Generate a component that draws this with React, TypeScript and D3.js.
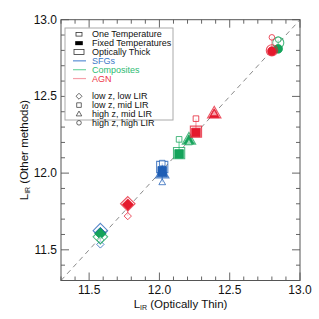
import * as d3 from 'd3'

const W = 319
const H = 319
const PLOT = { left: 61, top: 19.7, right: 300, bottom: 280.5 }
const FONT = 'Liberation Sans, Arial, Helvetica, sans-serif'

const X_DOMAIN: [number, number] = [11.3, 13.0]
const Y_DOMAIN: [number, number] = [11.3, 13.0]
const MAJOR_TICKS = [11.5, 12.0, 12.5, 13.0]
const TICK_LABELS = ['11.5', '12.0', '12.5', '13.0']

// SFGs: low z low LIR, low z mid LIR, high z mid LIR
const sfgShape = ['diamond', 'square', 'triangle']
const sfgThin = [11.58, 12.02, 12.02]
const sfgOneT = [11.535, 12.065, 11.94]
const sfgFixed = [11.61, 12.015, 12.0]
const sfgThick = [11.625, 12.04, 12.0]

// Composites: low z low LIR, low z mid LIR, high z mid LIR, high z high LIR
const compShape = ['diamond', 'square', 'triangle', 'circle']
const compThin = [11.58, 12.14, 12.21, 12.845]
const compOneT = [11.565, 12.22, 12.2, 12.87]
const compFixed = [11.605, 12.125, 12.215, 12.81]
const compThick = [11.585, 12.13, 12.22, 12.85]

// AGN
const agnShape = ['diamond', 'square', 'triangle', 'circle']
const agnThin = [11.775, 12.26, 12.39, 12.8]
const agnOneT = [11.72, 12.355, 12.39, 12.885]
const agnFixed = [11.795, 12.265, 12.385, 12.795]
const agnThick = [11.8, 12.27, 12.39, 12.8]

const CLASS_NAMES = ['SFGs', 'Composites', 'AGN']
const CLASS_COLORS = ['#1f5eb5', '#14a35a', '#e5192d']
const CLASS_LINE = ['#5b8fd4', '#72d6a2', '#f5a0aa']
const CLASS_TEXT = ['#3a78c8', '#2dbb72', '#ee3548']

const METHOD_NAMES = ['One Temperature', 'Fixed Temperatures', 'Optically Thick']
const SHAPE_NAMES = ['low z, low LIR', 'low z, mid LIR', 'high z, mid LIR', 'high z, high LIR']
const SHAPE_KEYS = ['diamond', 'square', 'triangle', 'circle']

function shapePath(shape: string, cx: number, cy: number, r: number) {
  if (shape === 'square') {
    return `M${cx - r},${cy - r}h${2 * r}v${2 * r}h${-2 * r}Z`
  }
  if (shape === 'diamond') {
    const d = r * 1.3
    return `M${cx},${cy - d}L${cx + d},${cy}L${cx},${cy + d}L${cx - d},${cy}Z`
  }
  if (shape === 'triangle') {
    const h = r * 1.25
    return `M${cx},${cy - h}L${cx + r * 1.2},${cy + r * 0.85}L${cx - r * 1.2},${cy + r * 0.85}Z`
  }
  return `M${cx - r},${cy}a${r},${r} 0 1,0 ${2 * r},0a${r},${r} 0 1,0 ${-2 * r},0`
}

export default function App() {
  const x = d3.scaleLinear().domain(X_DOMAIN).range([PLOT.left, PLOT.right])
  const y = d3.scaleLinear().domain(Y_DOMAIN).range([PLOT.bottom, PLOT.top])
  const minor = d3.range(11.3, 13.001, 0.1)

  const classes = [
    { shape: sfgShape, thin: sfgThin, one: sfgOneT, fixed: sfgFixed, thick: sfgThick },
    { shape: compShape, thin: compThin, one: compOneT, fixed: compFixed, thick: compThick },
    { shape: agnShape, thin: agnThin, one: agnOneT, fixed: agnFixed, thick: agnThick },
  ]

  const isMajor = (v: number) => MAJOR_TICKS.some((m) => Math.abs(m - v) < 1e-6)

  const legendY = (i: number) => 34.3 + i * 8.85
  const LX = 79
  const TX = 92

  return (
    <svg
      width={W}
      height={H}
      style={{ position: 'fixed', left: 0, top: 0, background: '#fff' }}
      fontFamily={FONT}
    >
      {/* diagonal 1:1 line */}
      <line
        x1={x(11.3)}
        y1={y(11.3)}
        x2={x(13.0)}
        y2={y(13.0)}
        stroke="#8a8a8a"
        strokeWidth={1}
        strokeDasharray="5 4"
      />

      {/* ticks on all four sides */}
      {minor.map((v, i) => {
        const len = isMajor(v) ? 8 : 4
        return (
          <g key={'t' + i} stroke="#666" strokeWidth={1}>
            <line x1={x(v)} x2={x(v)} y1={PLOT.bottom} y2={PLOT.bottom - len} />
            <line x1={x(v)} x2={x(v)} y1={PLOT.top} y2={PLOT.top + len} />
            <line y1={y(v)} y2={y(v)} x1={PLOT.left} x2={PLOT.left + len} />
            <line y1={y(v)} y2={y(v)} x1={PLOT.right} x2={PLOT.right - len} />
          </g>
        )
      })}
      <rect
        x={PLOT.left}
        y={PLOT.top}
        width={PLOT.right - PLOT.left}
        height={PLOT.bottom - PLOT.top}
        fill="none"
        stroke="#555"
        strokeWidth={1}
      />

      {MAJOR_TICKS.map((v, i) => (
        <text key={'xl' + i} x={x(v)} y={294} textAnchor="middle" fontSize={12} fill="#111">
          {TICK_LABELS[i]}
        </text>
      ))}
      {MAJOR_TICKS.map((v, i) => (
        <text
          key={'yl' + i}
          x={57}
          y={y(v)}
          textAnchor="end"
          dominantBaseline="central"
          fontSize={12}
          fill="#111"
        >
          {TICK_LABELS[i]}
        </text>
      ))}

      <text x={(PLOT.left + PLOT.right) / 2} y={308} textAnchor="middle" fontSize={11.5} fill="#111">
        <tspan>L</tspan>
        <tspan fontSize={7} dy={2}>IR</tspan>
        <tspan dy={-2}> (Optically Thin)</tspan>
      </text>
      <text
        transform={`translate(28,${(PLOT.top + PLOT.bottom) / 2}) rotate(-90)`}
        textAnchor="middle"
        fontSize={11.5}
        fill="#111"
      >
        <tspan>L</tspan>
        <tspan fontSize={7} dy={2}>IR</tspan>
        <tspan dy={-2}> (Other methods)</tspan>
      </text>

      {/* data */}
      {classes.map((c, ci) =>
        c.shape.map((s, i) => {
          const ys = [c.one[i], c.fixed[i], c.thick[i]]
          const px = x(c.thin[i])
          const col = CLASS_COLORS[ci]
          return (
            <g key={`d${ci}-${i}`}>
              <line
                x1={px}
                x2={px}
                y1={y(d3.min(ys) as number)}
                y2={y(d3.max(ys) as number)}
                stroke={CLASS_LINE[ci]}
                strokeWidth={1.2}
              />
              <path d={shapePath(s, px, y(c.fixed[i]), 4.3)} fill={col} stroke={col} strokeWidth={0.8} />
              <path
                d={shapePath(s, px, y(c.thick[i]), 5.6)}
                fill="none"
                stroke={col}
                strokeOpacity={0.75}
                strokeWidth={1.1}
              />
              <path
                d={shapePath(s, px, y(c.one[i]), 2.8)}
                fill="#fff"
                fillOpacity={0.6}
                stroke={col}
                strokeOpacity={0.85}
                strokeWidth={0.9}
              />
            </g>
          )
        })
      )}

      {/* legend */}
      <rect x={65} y={28} width={108} height={92} fill="#fff" stroke="#aaa" strokeWidth={1} />
      <rect x={LX - 3} y={legendY(0) - 1.8} width={6} height={3.6} fill="none" stroke="#333" strokeWidth={0.8} />
      <rect x={LX - 3.8} y={legendY(1) - 2} width={7.6} height={4} fill="#000" />
      <rect x={LX - 5} y={legendY(2) - 2.5} width={10} height={5} fill="none" stroke="#333" strokeWidth={0.8} />
      {METHOD_NAMES.map((n, i) => (
        <text key={'lm' + i} x={TX} y={legendY(i)} dominantBaseline="central" fontSize={9} fill="#111">
          {n}
        </text>
      ))}
      {CLASS_NAMES.map((n, i) => (
        <g key={'lc' + i}>
          <line x1={73} x2={86} y1={legendY(3 + i)} y2={legendY(3 + i)} stroke={CLASS_LINE[i]} strokeWidth={1.2} />
          <text x={TX} y={legendY(3 + i)} dominantBaseline="central" fontSize={9} fill={CLASS_TEXT[i]}>
            {n}
          </text>
        </g>
      ))}
      {SHAPE_NAMES.map((n, i) => (
        <g key={'ls' + i}>
          <path
            d={shapePath(SHAPE_KEYS[i], LX, legendY(7 + i), 2.3)}
            fill="none"
            stroke="#444"
            strokeWidth={0.8}
          />
          <text x={TX} y={legendY(7 + i)} dominantBaseline="central" fontSize={9} fill="#111">
            {n}
          </text>
        </g>
      ))}
    </svg>
  )
}
